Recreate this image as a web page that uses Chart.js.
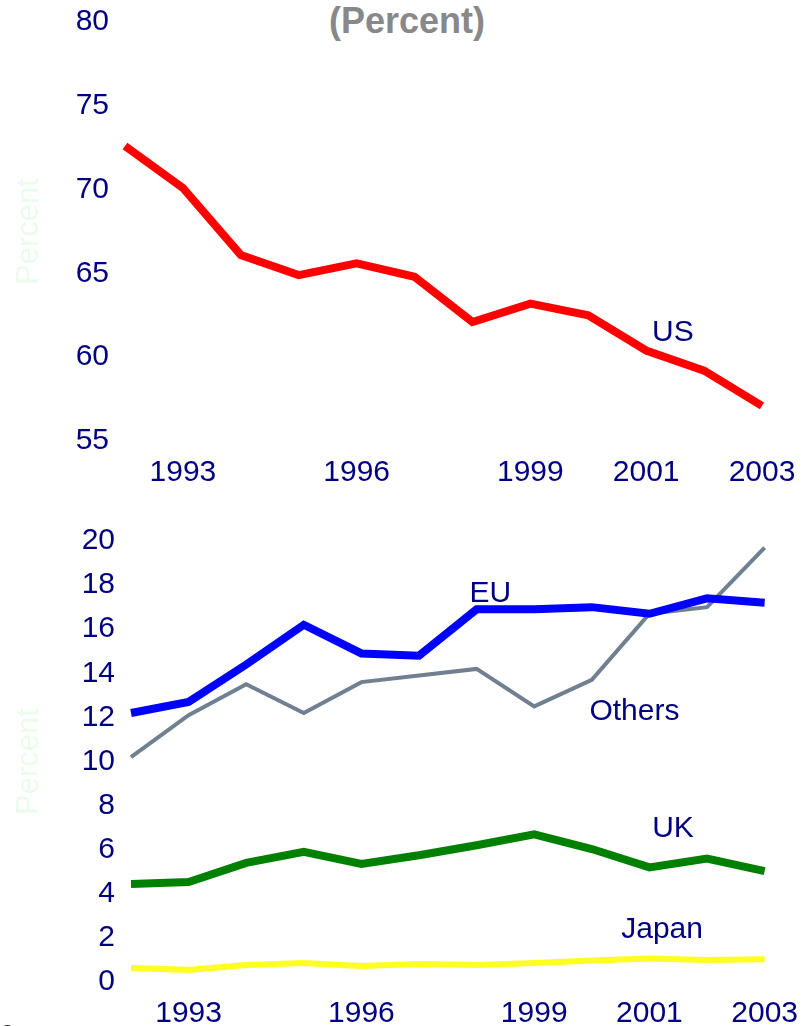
<!DOCTYPE html>
<html>
<head>
<meta charset="utf-8">
<script src="https://cdn.jsdelivr.net/npm/chart.js@4/dist/chart.umd.min.js"></script>
<style>
  body { margin: 0; background: #fff; width: 812px; height: 1026px; overflow: hidden; position: relative; font-family: "Liberation Sans", Arial, sans-serif; }
  #title { position: absolute; left: 0; top: 3px; width: 814px; text-align: center; font-weight: bold; font-size: 36px; line-height: 36px; color: #888888; }
  #source { position: absolute; left: 2px; top: 1023px; font-size: 16px; color: #222; }
  canvas { position: absolute; left: 0; }
  #top { top: 0; }
  #bottom { top: 500px; }
</style>
</head>
<body>
<div id="title">(Percent)</div>
<canvas id="top" width="812" height="500"></canvas>
<canvas id="bottom" width="812" height="526"></canvas>
<div id="source">Source:</div>
<script>
var years = ['1992','1993','1994','1995','1996','1997','1998','1999','2000','2001','2002','2003'];
var xTickLabels = ['1993','1996','1999','2001','2003'];

var usShare = [72.6, 70.1, 66.1, 64.9, 65.6, 64.8, 62.1, 63.2, 62.5, 60.4, 59.2, 57.1];
var euShare = [12.2, 12.7, 14.4, 16.2, 14.9, 14.8, 16.9, 16.9, 17.0, 16.7, 17.4, 17.2];
var othersShare = [10.2, 12.1, 13.5, 12.2, 13.6, 13.9, 14.2, 12.5, 13.7, 16.7, 17.0, 19.7];
var ukShare = [4.44, 4.53, 5.4, 5.9, 5.35, 5.75, 6.2, 6.7, 6.03, 5.2, 5.6, 5.03];
var japanShare = [0.63, 0.55, 0.77, 0.86, 0.73, 0.82, 0.77, 0.86, 0.98, 1.07, 1.0, 1.03];

var navy = '#000080';
var fontFamily = '"Liberation Sans", Arial, sans-serif';
Chart.defaults.font.family = fontFamily;

// writes the series names next to their lines, anchored in data units
var inlineLabels = {
	id: 'inlineLabels',
	afterDatasetsDraw: function(chart, args, opts) {
		var ctx = chart.ctx;
		var xs = chart.scales.x, ys = chart.scales.y;
		ctx.save();
		ctx.font = '30px ' + fontFamily;
		ctx.fillStyle = navy;
		ctx.textAlign = 'center';
		ctx.textBaseline = 'middle';
		opts.items.forEach(function(it) {
			ctx.fillText(it.text, xs.getPixelForValue(it.x), ys.getPixelForValue(it.y));
		});
		ctx.restore();
	}
};

function line(label, data, color, width) {
	return {
		label: label,
		data: data,
		borderColor: color,
		backgroundColor: color,
		borderWidth: width,
		pointRadius: 0,
		tension: 0,
		fill: false
	};
}

function makeChart(id, datasets, yMin, yMax, step, box, labels) {
	return new Chart(document.getElementById(id).getContext('2d'), {
		type: 'line',
		data: { labels: years, datasets: datasets },
		plugins: [inlineLabels],
		options: {
			responsive: false,
			animation: false,
			devicePixelRatio: 1,
			layout: { padding: { top: box.top, right: box.right, left: 0, bottom: 0 } },
			plugins: {
				legend: { display: false },
				tooltip: { enabled: false },
				inlineLabels: { items: labels }
			},
			scales: {
				x: {
					grid: { display: false, drawTicks: false },
					border: { display: false },
					ticks: {
						autoSkip: false,
						maxRotation: 0,
						padding: 14,
						color: navy,
						font: { size: 30 },
						callback: function(val) {
							var l = this.getLabelForValue(val);
							return xTickLabels.indexOf(l) >= 0 ? l : '';
						}
					},
					afterFit: function(s) { s.height = box.xHeight; }
				},
				y: {
					min: yMin,
					max: yMax,
					grid: { display: false, drawTicks: false },
					border: { display: false },
					ticks: { stepSize: step, padding: 16, color: navy, font: { size: 30 } },
					title: { display: true, text: 'Percent', color: '#ecfcec', font: { size: 31 }, padding: { top: 11, bottom: 0 } },
					afterFit: function(s) {
						s.width = box.yWidth;
						// let the layout padding alone decide where the plot starts
						s.paddingTop = 0;
						s.paddingBottom = 0;
					}
				}
			}
		}
	});
}

makeChart('top', [line('US', usShare, '#ff0000', 8)], 55, 80, 5,
	{ top: 22, right: 50, xHeight: 59, yWidth: 125 },
	[{ text: 'US', x: 9.46, y: 61.45 }]);

makeChart('bottom', [
		line('EU', euShare, '#0000ff', 8),
		line('Others', othersShare, '#708090', 4),
		line('UK', ukShare, '#008000', 8),
		line('Japan', japanShare, '#ffff22', 6)
	], 0, 20, 2,
	{ top: 41, right: 43, xHeight: 44, yWidth: 131 },
	[
		{ text: 'EU', x: 6.24, y: 17.6 },
		{ text: 'Others', x: 8.74, y: 12.25 },
		{ text: 'UK', x: 9.41, y: 6.94 },
		{ text: 'Japan', x: 9.22, y: 2.36 }
	]);
</script>
</body>
</html>
